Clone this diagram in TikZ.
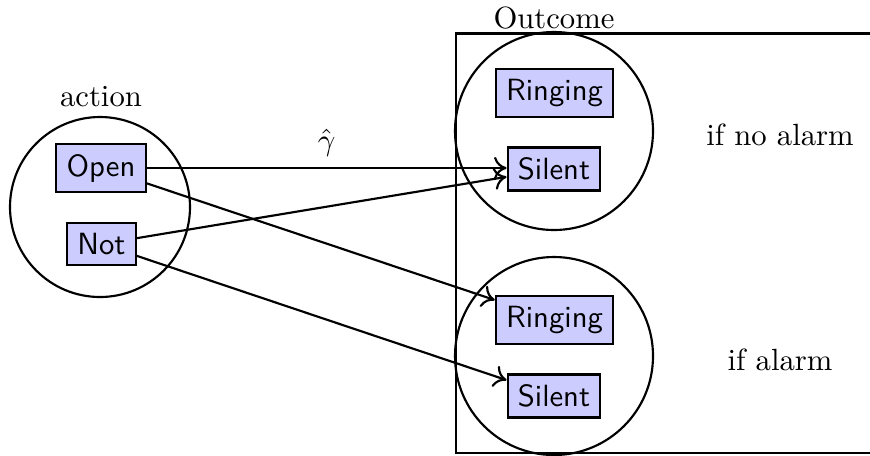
\documentclass[tikz,border=0pt]{standalone}
\usetikzlibrary{arrows.meta}
\begin{document}
\begin{tikzpicture}[x=0.326pt, y=-0.326pt, line width=0.7pt,
  choice/.style={draw, fill=blue!20, font=\sffamily},
  group/.style={draw, circle},
  link/.style={-{To[scale length=1.3, scale width=1.1]}}]
  \clip (0,0) rectangle (870,455);
  % outcome frame, running off to the right
  \draw (880,33.5) -- (456,33.5) -- (456,453) -- (880,453);
  \node at (554,18) {Outcome};

  % action set
  \draw (100,207) circle [radius=90];
  \node at (101,97) {action};
  \node[choice] (open) at (101,168) {Open};
  \node[choice] (not) at (101.5,244) {Not};

  % outcomes if no alarm
  \draw (554,131) circle [radius=99];
  \node[choice] (ring1) at (554.5,93) {Ringing};
  \node[choice] (sil1) at (554,169) {Silent};
  \node at (780,135) {if no alarm};

  % outcomes if alarm
  \draw (554,356) circle [radius=99];
  \node[choice] (ring2) at (554.5,320) {Ringing};
  \node[choice] (sil2) at (554,396) {Silent};
  \node at (780,360) {if alarm};

  % the map gamma-hat
  \draw[link] (open.east) -- node[above] {$\hat\gamma$} (open.east -| sil1.west);
  \draw[link] (open) -- (ring2);
  \draw[link] (not) -- (sil1);
  \draw[link] (not) -- (sil2);
\end{tikzpicture}
\end{document}
